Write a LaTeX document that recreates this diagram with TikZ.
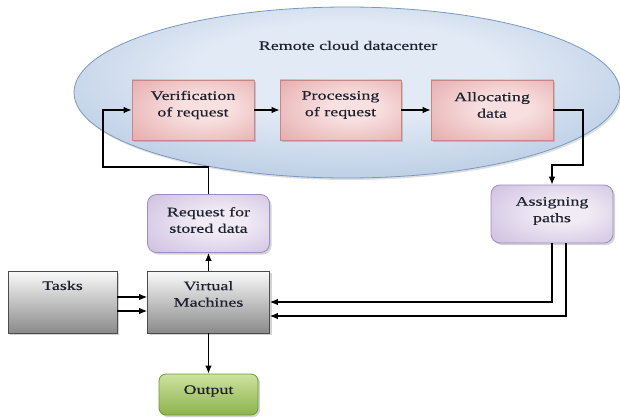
\documentclass[tikz,border=0pt]{standalone}
\usepackage{fontspec}
\setmainfont{Liberation Serif}[FakeStretch=1.38,FakeBold=0.4]
\usetikzlibrary{arrows.meta,shapes.geometric,shadows}

\definecolor{cloudin}{HTML}{E2EAF5}
\definecolor{cloudout}{HTML}{8FADD4}
\definecolor{cloudedge}{HTML}{7A98C0}
\definecolor{redin}{HTML}{F8E0E0}
\definecolor{redout}{HTML}{DD9294}
\definecolor{rededge}{HTML}{C98686}
\definecolor{purin}{HTML}{F0EBF5}
\definecolor{purout}{HTML}{BCA8D5}
\definecolor{puredge}{HTML}{A08CC0}
\definecolor{greytop}{HTML}{FAFAFA}
\definecolor{greybot}{HTML}{8A8A8A}
\definecolor{greenedge}{HTML}{6E9A35}
\definecolor{greentop}{HTML}{CDE2A0}
\definecolor{greenbot}{HTML}{8DB34C}
\definecolor{inkgrey}{HTML}{1E2230}

% soft radial fills, lighter towards the middle
\pgfdeclareradialshading{cloudglow}{\pgfpoint{0bp}{8bp}}{%
  color(0bp)=(cloudin); color(14bp)=(cloudin); color(50bp)=(cloudout); color(70bp)=(cloudout)}
\pgfdeclareradialshading{redglow}{\pgfpoint{6bp}{2bp}}{%
  color(0bp)=(redin); color(10bp)=(redin); color(52bp)=(redout); color(70bp)=(redout)}
\pgfdeclareradialshading{purglow}{\pgfpoint{6bp}{2bp}}{%
  color(0bp)=(purin); color(10bp)=(purin); color(52bp)=(purout); color(70bp)=(purout)}

\begin{document}
\begin{tikzpicture}[x=1pt,y=-1pt,
  every node/.style={font=\fontsize{13}{16.5}\selectfont, align=center, text=inkgrey, inner sep=0pt},
  softshadow/.style={drop shadow={shadow xshift=2pt, shadow yshift=-2pt, opacity=0.35}},
  redbox/.style={rectangle, draw=rededge, line width=0.8pt, shading=redglow, softshadow,
    minimum width=122pt, minimum height=60pt},
  purbox/.style={rectangle, rounded corners=9pt, draw=puredge, line width=0.8pt, shading=purglow, softshadow,
    minimum width=122pt, minimum height=58pt},
  greybox/.style={rectangle, draw=black!70, line width=0.8pt, top color=greytop, bottom color=greybot, softshadow,
    minimum height=62pt},
  greenbox/.style={rectangle, rounded corners=7pt, draw=greenedge, line width=0.8pt, top color=greentop, bottom color=greenbot, softshadow,
    minimum width=99pt, minimum height=41pt},
  arr/.style={-{Latex[length=8pt,width=6.5pt]}, line width=1.1pt, draw=black},
  ln/.style={line width=1.1pt, draw=black}]

\useasboundingbox (0,0) rectangle (620,417);

% datacenter cloud
\node[ellipse, draw=cloudedge, line width=0.8pt, shading=cloudglow,
  drop shadow={shadow xshift=1.5pt, shadow yshift=-2pt, opacity=0.25},
  minimum width=546pt, minimum height=171pt] (cloud) at (347,92.5) {};
\node (title) at (348,45.5) {Remote cloud datacenter};

% stages inside the datacenter
\node[redbox] (verif) at (193,110) {};
\node (veriftxt) at (193,105) {Verification\\of request};
\node[redbox, minimum width=121pt] (proc) at (340.5,110) {};
\node (proctxt) at (340.5,105) {Processing\\of request};
\node[redbox] (alloc) at (492,110) {};
\node (alloctxt) at (492,105) {Allocating\\data};

% client side
\node[purbox] (req) at (208.5,223.5) {};
\node (reqtxt) at (208.5,220) {Request for\\stored data};
\node[purbox] (assign) at (552,214) {};
\node (assigntxt) at (552,211) {Assigning\\paths};
\node[greybox, minimum width=109pt] (tasks) at (62.5,302) {};
\node (taskstxt) at (62.5,285.5) {Tasks};
\node[greybox, minimum width=122pt] (vm) at (208.5,302) {};
\node (vmtxt) at (208.5,294) {Virtual\\Machines};
\node[greenbox] (out) at (208.5,394.5) {};
\node (outtxt) at (208.5,391) {Output};

% routing points
\coordinate (bendA) at (583,165);
\coordinate (bendB) at (103,167);

% connectors
\draw[arr] (verif.east) -- (proc.west);
\draw[arr] (proc.east) -- (alloc.west);
\draw[arr] (alloc.east) -| (bendA) -| (assign.north);
\draw[arr] (req.north) |- (bendB) |- (verif.west);
\draw[arr] (vm.north) -- (req.south);
\draw[arr] (vm.south) -- (out.north);
\draw[arr] ([yshift=5pt]tasks.east) -- ([yshift=5pt]vm.west);
\draw[arr] ([yshift=-9pt]tasks.east) -- ([yshift=-9pt]vm.west);
\draw[arr] (assign.south) |- (vm.east);
\draw[arr] ([xshift=14pt]assign.south) |- ([yshift=-14pt]vm.east);
\end{tikzpicture}
\end{document}
